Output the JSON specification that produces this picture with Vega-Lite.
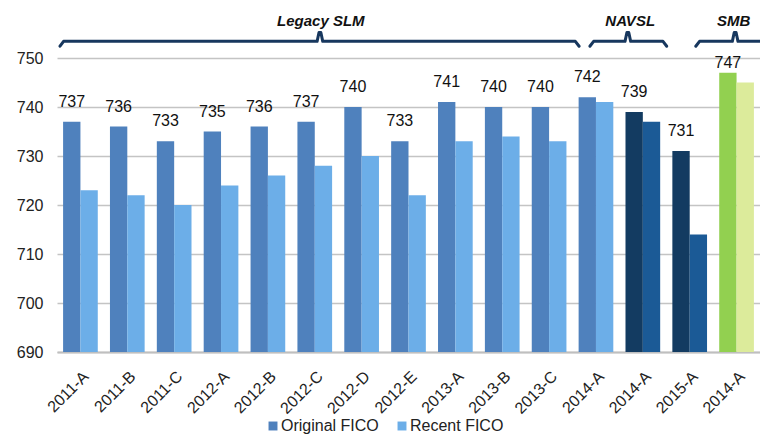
{
  "$schema": "https://vega.github.io/schema/vega-lite/v6.json",
  "autosize": "none",
  "width": 703,
  "height": 343,
  "padding": {"left": 57, "top": 9, "right": 0, "bottom": 82},
  "config": {
    "view": {"stroke": null},
    "font": "Liberation Sans",
    "text": {"font": "Liberation Sans"}
  },
  "datasets": {
    "fico": [
      {"deal": "2011-A", "seg": "Legacy", "series": "Original FICO", "value": 737},
      {"deal": "2011-A", "seg": "Legacy", "series": "Recent FICO", "value": 723},
      {"deal": "2011-B", "seg": "Legacy", "series": "Original FICO", "value": 736},
      {"deal": "2011-B", "seg": "Legacy", "series": "Recent FICO", "value": 722},
      {"deal": "2011-C", "seg": "Legacy", "series": "Original FICO", "value": 733},
      {"deal": "2011-C", "seg": "Legacy", "series": "Recent FICO", "value": 720},
      {"deal": "2012-A", "seg": "Legacy", "series": "Original FICO", "value": 735},
      {"deal": "2012-A", "seg": "Legacy", "series": "Recent FICO", "value": 724},
      {"deal": "2012-B", "seg": "Legacy", "series": "Original FICO", "value": 736},
      {"deal": "2012-B", "seg": "Legacy", "series": "Recent FICO", "value": 726},
      {"deal": "2012-C", "seg": "Legacy", "series": "Original FICO", "value": 737},
      {"deal": "2012-C", "seg": "Legacy", "series": "Recent FICO", "value": 728},
      {"deal": "2012-D", "seg": "Legacy", "series": "Original FICO", "value": 740},
      {"deal": "2012-D", "seg": "Legacy", "series": "Recent FICO", "value": 730},
      {"deal": "2012-E", "seg": "Legacy", "series": "Original FICO", "value": 733},
      {"deal": "2012-E", "seg": "Legacy", "series": "Recent FICO", "value": 722},
      {"deal": "2013-A", "seg": "Legacy", "series": "Original FICO", "value": 741},
      {"deal": "2013-A", "seg": "Legacy", "series": "Recent FICO", "value": 733},
      {"deal": "2013-B", "seg": "Legacy", "series": "Original FICO", "value": 740},
      {"deal": "2013-B", "seg": "Legacy", "series": "Recent FICO", "value": 734},
      {"deal": "2013-C", "seg": "Legacy", "series": "Original FICO", "value": 740},
      {"deal": "2013-C", "seg": "Legacy", "series": "Recent FICO", "value": 733},
      {"deal": "2014-A", "seg": "Legacy", "series": "Original FICO", "value": 742},
      {"deal": "2014-A", "seg": "Legacy", "series": "Recent FICO", "value": 741},
      {"deal": "2014-A", "seg": "NAVSL", "series": "Original FICO", "value": 739},
      {"deal": "2014-A", "seg": "NAVSL", "series": "Recent FICO", "value": 737},
      {"deal": "2015-A", "seg": "NAVSL", "series": "Original FICO", "value": 731},
      {"deal": "2015-A", "seg": "NAVSL", "series": "Recent FICO", "value": 714},
      {"deal": "2014-A", "seg": "SMB", "series": "Original FICO", "value": 747},
      {"deal": "2014-A", "seg": "SMB", "series": "Recent FICO", "value": 745}
    ],
    "brackets": [
      {"b": "Legacy", "k": 0, "pos": 0.064, "v": 752.4},
      {"b": "Legacy", "k": 1, "pos": 0.14, "v": 753.4},
      {"b": "Legacy", "k": 2, "pos": 5.55, "v": 753.4},
      {"b": "Legacy", "k": 3, "pos": 5.59, "v": 755.2},
      {"b": "Legacy", "k": 4, "pos": 5.63, "v": 755.2},
      {"b": "Legacy", "k": 5, "pos": 5.67, "v": 753.4},
      {"b": "Legacy", "k": 6, "pos": 11.06, "v": 753.4},
      {"b": "Legacy", "k": 7, "pos": 11.14, "v": 752.4},
      {"b": "NAVSL", "k": 0, "pos": 11.37, "v": 752.4},
      {"b": "NAVSL", "k": 1, "pos": 11.45, "v": 753.4},
      {"b": "NAVSL", "k": 2, "pos": 12.12, "v": 753.4},
      {"b": "NAVSL", "k": 3, "pos": 12.16, "v": 755.2},
      {"b": "NAVSL", "k": 4, "pos": 12.2, "v": 755.2},
      {"b": "NAVSL", "k": 5, "pos": 12.24, "v": 753.4},
      {"b": "NAVSL", "k": 6, "pos": 12.93, "v": 753.4},
      {"b": "NAVSL", "k": 7, "pos": 13.01, "v": 752.4},
      {"b": "SMB", "k": 0, "pos": 13.63, "v": 752.4},
      {"b": "SMB", "k": 1, "pos": 13.71, "v": 753.4},
      {"b": "SMB", "k": 2, "pos": 14.41, "v": 753.4},
      {"b": "SMB", "k": 3, "pos": 14.45, "v": 755.2},
      {"b": "SMB", "k": 4, "pos": 14.49, "v": 755.2},
      {"b": "SMB", "k": 5, "pos": 14.53, "v": 753.4},
      {"b": "SMB", "k": 6, "pos": 15.4, "v": 753.4}
    ],
    "titles": [
      {"name": "Legacy SLM", "pos": 5.63, "v": 757.6},
      {"name": "NAVSL", "pos": 12.23, "v": 757.6},
      {"name": "SMB", "pos": 14.44, "v": 757.6}
    ]
  },
  "resolve": {"scale": {"x": "independent"}, "axis": {"x": "independent"}},
  "layer": [
    {
      "data": {"name": "fico"},
      "transform": [
        {"calculate": "datum.seg + '|' + datum.deal", "as": "key"},
        {"calculate": "datum.seg == 'Legacy' ? datum.series : datum.seg + ' ' + datum.series", "as": "ckey"}
      ],
      "encoding": {
        "x": {
          "field": "key", "type": "nominal", "sort": null,
          "scale": {"paddingInner": 0.26, "paddingOuter": 0.13},
          "axis": {
            "title": null,
            "labelExpr": "split(datum.label, '|')[1]",
            "labelAngle": -45,
            "labelFont": "Liberation Sans",
            "labelFontSize": 16,
            "labelColor": "#222222",
            "labelPadding": 16,
            "ticks": false,
            "domainColor": "#BFBFBF",
            "domainWidth": 2,
            "grid": false
          }
        },
        "xOffset": {
          "field": "series", "type": "nominal",
          "scale": {"domain": ["Original FICO", "Recent FICO"], "paddingInner": 0, "paddingOuter": 0}
        },
        "y": {
          "field": "value", "type": "quantitative",
          "scale": {"domain": [690, 760], "nice": false, "zero": false},
          "axis": {
            "title": null,
            "values": [690, 700, 710, 720, 730, 740, 750],
            "labelFont": "Liberation Sans",
            "labelFontSize": 16,
            "labelColor": "#222222",
            "labelPadding": 14,
            "ticks": false,
            "domain": false,
            "gridColor": "#C4C4C4",
            "gridWidth": 1.5
          }
        }
      },
      "layer": [
        {
          "mark": {"type": "bar"},
          "encoding": {
            "y2": {"datum": 690},
            "color": {
              "field": "ckey", "type": "nominal",
              "scale": {
                "domain": ["Original FICO", "Recent FICO", "NAVSL Original FICO", "NAVSL Recent FICO", "SMB Original FICO", "SMB Recent FICO"],
                "range": ["#4F81BD", "#6CAEE8", "#133B61", "#1B5A96", "#92D050", "#DCEB9B"]
              },
              "legend": {
                "title": null,
                "values": ["Original FICO", "Recent FICO"],
                "orient": "none",
                "direction": "horizontal",
                "legendX": 208,
                "legendY": 409,
                "symbolType": "square",
                "symbolSize": 80,
                "symbolStrokeWidth": 0,
                "labelFont": "Liberation Sans",
                "labelFontSize": 16,
                "labelColor": "#222222",
                "labelOffset": 0,
                "columnPadding": 15
              }
            }
          }
        },
        {
          "transform": [{"filter": "datum.series == 'Original FICO' && datum.seg != 'SMB'"}],
          "mark": {"type": "text", "baseline": "alphabetic", "dy": -15, "fontSize": 16, "color": "#111111", "font": "Liberation Sans"},
          "encoding": {
            "text": {"field": "value", "type": "quantitative"}
          }
        },
        {
          "transform": [{"filter": "datum.series == 'Original FICO' && datum.seg == 'SMB'"}],
          "mark": {"type": "text", "baseline": "alphabetic", "dy": -5, "fontSize": 16, "color": "#111111", "font": "Liberation Sans"},
          "encoding": {
            "text": {"field": "value", "type": "quantitative"}
          }
        }
      ]
    },
    {
      "layer": [
        {
          "data": {"name": "brackets"},
          "mark": {"type": "line", "color": "#17375E", "strokeWidth": 3, "clip": false, "strokeJoin": "round", "strokeCap": "round"},
          "encoding": {
            "x": {"field": "pos", "type": "quantitative", "scale": {"domain": [0, 15], "nice": false, "zero": false}, "axis": null},
            "y": {"field": "v", "type": "quantitative"},
            "detail": {"field": "b"},
            "order": {"field": "k", "type": "quantitative"}
          }
        },
        {
          "data": {"name": "titles"},
          "mark": {"type": "text", "fontSize": 15, "fontWeight": "bold", "fontStyle": "italic", "color": "#111111", "font": "Liberation Sans", "baseline": "middle"},
          "encoding": {
            "x": {"field": "pos", "type": "quantitative", "scale": {"domain": [0, 15], "nice": false, "zero": false}, "axis": null},
            "y": {"field": "v", "type": "quantitative"},
            "text": {"field": "name"}
          }
        }
      ]
    }
  ]
}
